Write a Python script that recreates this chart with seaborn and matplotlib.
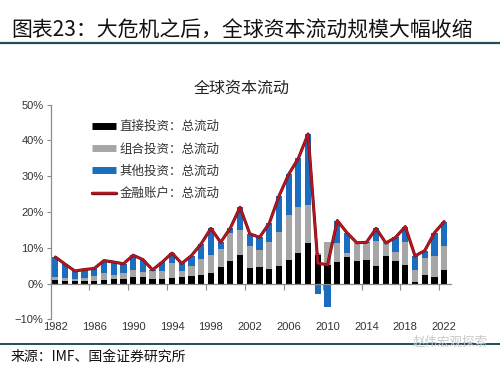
import numpy as np
import matplotlib
matplotlib.use("Agg")
import matplotlib.pyplot as plt
import matplotlib.patheffects as pe
from matplotlib.lines import Line2D
from matplotlib.ticker import FixedLocator, FuncFormatter
import seaborn as sns

# ---------------- data (% of GDP) ----------------
years = list(range(1982, 2023))
direct = [0.9, 0.8, 0.7, 0.8, 0.7, 1.0, 1.2, 1.3, 1.8, 1.7,
          1.3, 1.3, 1.4, 1.8, 2.0, 2.3, 2.9, 4.6, 6.4, 7.9,
          4.4, 4.5, 4.1, 5.0, 6.5, 8.6, 11.3, 7.9, 5.1, 6.1,
          7.3, 6.4, 6.5, 5.0, 7.8, 6.3, 5.1, 0.5, 2.4, 1.7, 3.9]
portfolio = [0.9, 0.8, 0.6, 0.7, 1.3, 1.9, 1.3, 1.7, 2.1, 1.4,
             2.1, 2.3, 4.2, 1.8, 2.8, 4.5, 5.0, 5.0, 7.6, 7.0,
             6.2, 4.9, 7.5, 9.5, 12.7, 12.8, 10.7, 0.7, 6.6, 5.3,
             1.3, 4.8, 4.8, 7.0, 3.9, 2.4, 6.5, 3.2, 4.6, 6.0, 6.6]
other = [5.6, 3.8, 2.2, 2.4, 2.2, 3.5, 3.5, 2.5, 4.0, 3.6,
         0.4, 2.4, 2.9, 2.0, 3.0, 4.3, 7.5, 1.9, 1.5, 6.4,
         3.3, 3.5, 5.2, 9.9, 11.3, 13.6, 19.8, -2.9, -6.5, 6.2,
         5.6, 0.2, 0.2, 3.4, -0.4, 4.2, 4.3, 4.0, 2.2, 6.5, 6.8]
financial = [7.4, 5.4, 3.5, 3.9, 4.2, 6.4, 6.0, 5.5, 7.9, 6.7,
             3.8, 6.0, 8.5, 5.6, 7.8, 11.1, 15.4, 11.5, 15.5, 21.3,
             13.9, 12.9, 16.8, 24.4, 30.5, 35.0, 41.8, 5.7, 5.2, 17.6,
             14.2, 11.4, 11.5, 15.4, 11.3, 12.9, 15.9, 7.7, 9.2, 14.2, 17.3]
series_names = ["直接投资：总流动", "组合投资：总流动", "其他投资：总流动", "金融账户：总流动"]
y_ticks = [-10, 0, 10, 20, 30, 40, 50]

# ---------------- style ----------------
sns.set_theme(style="white")
plt.rcParams["font.family"] = ["Liberation Sans", "Noto Sans CJK SC", "DejaVu Sans"]
CJK = ["Noto Sans CJK SC", "DejaVu Sans"]

c_direct = "#000000"
c_port = "#a6a6a6"
c_other = "#1b6dbf"
c_line = "#b5161f"
axis_c = "#8c8c8c"

fig = plt.figure(figsize=(5.0, 3.67), dpi=100)
ax = fig.add_axes([0.101, 0.130, 0.801, 0.585])

x = np.arange(len(years))
d = np.array(direct); p = np.array(portfolio); o = np.array(other)
w = 0.64

# stacked bars, positives upwards and negatives downwards
pos_base = np.zeros(len(x)); neg_base = np.zeros(len(x))
for vals, col in [(d, c_direct), (p, c_port), (o, c_other)]:
    bottoms = np.where(vals >= 0, pos_base, neg_base)
    ax.bar(x, vals, bottom=bottoms, width=w, color=col, linewidth=0, zorder=2)
    pos_base = pos_base + np.where(vals >= 0, vals, 0)
    neg_base = neg_base + np.where(vals < 0, vals, 0)

sns.lineplot(x=x, y=financial, ax=ax, color=c_line, linewidth=1.5, zorder=4,
             path_effects=[pe.Stroke(linewidth=2.2, foreground="#6e0d14"), pe.Normal()])

# axes
ax.set_xlim(-0.5, 40.7)
ax.set_ylim(-10, 50)
ax.yaxis.set_major_locator(FixedLocator(y_ticks))
ax.yaxis.set_major_formatter(FuncFormatter(lambda v, _: f"{int(v)}%".replace("-", "\u2212")))
ax.tick_params(axis="y", length=3, width=0.8, color=axis_c, direction="out",
               labelsize=8, pad=2, labelcolor="#333333", left=True)

for s in ["top", "right"]:
    ax.spines[s].set_visible(False)
ax.spines["left"].set_color(axis_c)
ax.spines["left"].set_linewidth(0.9)
ax.spines["bottom"].set_position(("data", 0))
ax.spines["bottom"].set_color(axis_c)
ax.spines["bottom"].set_linewidth(0.9)

ax.set_xticks(x[::4])
ax.set_xticklabels([str(yv) for yv in years[::4]])
ax.set_xticks(np.arange(3.5, 40, 4), minor=True)
ax.tick_params(axis="x", which="major", length=0, pad=27.5, labelsize=8, labelcolor="#333333")
ax.tick_params(axis="x", which="minor", length=4, width=0.8, color=axis_c, direction="out", bottom=True)
ax.grid(False)

# legend
handles = [Line2D([0], [0], color=c_direct, lw=5, solid_capstyle="butt"),
           Line2D([0], [0], color=c_port, lw=5, solid_capstyle="butt"),
           Line2D([0], [0], color=c_other, lw=5, solid_capstyle="butt"),
           Line2D([0], [0], color=c_line, lw=1.6,
                  path_effects=[pe.Stroke(linewidth=2.4, foreground="#6e0d14"), pe.Normal()])]
leg = ax.legend(handles, series_names, loc="upper left", bbox_to_anchor=(0.075, 0.98),
                frameon=False, handlelength=1.9, handletextpad=0.3, labelspacing=0.74,
                prop={"family": CJK, "size": 9})
for t in leg.get_texts():
    t.set_color("#333333")

# titles and annotations
fig.text(0.484, 0.760, "全球资本流动", ha="center", va="center", family=CJK,
         fontsize=11.5, color="#222222")
fig.text(0.022, 0.918, "图表23：大危机之后，全球资本流动规模大幅收缩", ha="left", va="center",
         family=CJK, fontsize=15, fontweight="medium", color="#111111")
fig.add_artist(Line2D([0.0, 1.0], [0.884, 0.884], transform=fig.transFigure,
                      color="#1f4e5c", lw=1.6))
fig.add_artist(Line2D([0.0, 1.0], [0.062, 0.062], transform=fig.transFigure,
                      color="#1f4e5c", lw=1.4))
fig.text(0.022, 0.027, "来源：IMF、国金证券研究所", ha="left", va="center",
         family=CJK, fontsize=10, color="#111111")
fig.text(0.975, 0.068, "赵伟宏观探索", ha="right", va="center", family=CJK,
         fontsize=9, color="#c8c8c8")

fig.savefig("out.png", dpi=100)
